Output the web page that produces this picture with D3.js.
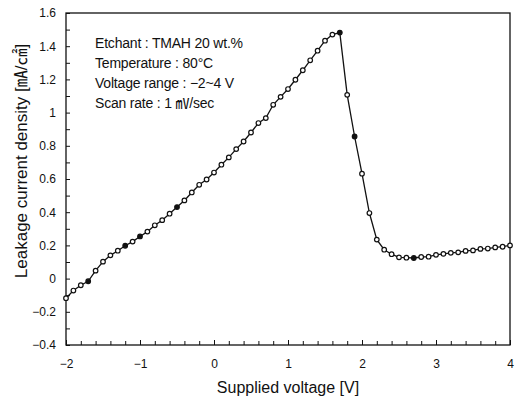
<!DOCTYPE html>
<html><head><meta charset="utf-8">
<script src="https://cdn.jsdelivr.net/npm/d3@7/dist/d3.min.js"></script>
<style>
html,body{margin:0;padding:0;background:#fff;}
svg{display:block;}
text{font-family:Arial,"Liberation Sans","Noto Sans CJK KR",sans-serif;fill:#111;}
</style></head>
<body>
<script>
const voltage = [-2.0,-1.9,-1.8,-1.7,-1.6,-1.5,-1.4,-1.3,-1.2,-1.1,-1.0,-0.9,-0.8,-0.7,-0.6,-0.5,-0.4,-0.3,-0.2,-0.1,
  0.0,0.1,0.2,0.3,0.4,0.5,0.6,0.7,0.8,0.9,1.0,1.1,1.2,1.3,1.4,1.5,1.6,1.7,1.8,1.9,
  2.0,2.1,2.2,2.3,2.4,2.5,2.6,2.7,2.8,2.9,3.0,3.1,3.2,3.3,3.4,3.5,3.6,3.7,3.8,3.9,4.0];
const current = [-0.118,-0.072,-0.040,-0.016,0.048,0.102,0.140,0.168,0.198,0.223,0.254,0.283,0.321,0.352,0.391,0.431,0.471,0.519,0.565,0.597,
  0.639,0.686,0.730,0.780,0.826,0.880,0.937,0.967,1.047,1.095,1.142,1.198,1.255,1.315,1.373,1.433,1.470,1.482,1.107,0.856,
  0.632,0.395,0.235,0.174,0.147,0.128,0.126,0.124,0.130,0.132,0.143,0.149,0.155,0.158,0.167,0.170,0.179,0.181,0.188,0.192,0.200];
const filledVoltages = [-1.7,-1.2,-1.0,-0.5,1.7,1.9,2.7];
const xTickLabels = [-2,-1,0,1,2,3,4];
const xMinorTicks = [-2,-1.8,-1.6,-1.4,-1.2,-1,-0.8,-0.6,-0.4,-0.2,0,0.2,0.4,0.6,0.8,1,1.2,1.4,1.6,1.8,2,2.2,2.4,2.6,2.8,3,3.2,3.4,3.6,3.8,4];
const yTickLabels = [-0.4,-0.2,0,0.2,0.4,0.6,0.8,1,1.2,1.4,1.6];
const yMinorTicks = [-0.3,-0.1,0.1,0.3,0.5,0.7,0.9,1.1,1.3,1.5];
const annotations = ["Etchant : TMAH 20 wt.%","Temperature : 80°C","Voltage range : \u22122~4 V","Scan rate : 1 ㎷/sec"];
const xTitle = "Supplied voltage [V]";
const yTitle = "Leakage current density [㎃/㎠]";

const W = 519, H = 401;
const svg = d3.select("body").append("svg").attr("width", W).attr("height", H);
const x = d3.scaleLinear().domain([-2, 4]).range([66, 510]);
const y = d3.scaleLinear().domain([-0.4, 1.6]).range([345, 13]);

const fmtY = v => (v === 0 ? "0" : (Number.isInteger(v) ? String(v) : v.toFixed(1))).replace("-", "\u2212");
const fmtX = v => String(v).replace("-", "\u2212");

// frame
svg.append("rect").attr("x", x(-2)).attr("y", y(1.6)).attr("width", x(4) - x(-2)).attr("height", y(-0.4) - y(1.6))
  .attr("fill", "none").attr("stroke", "#111").attr("stroke-width", 1.3);

// x axis
const gx = svg.append("g").attr("transform", `translate(0,${y(-0.4)})`);
gx.call(d3.axisBottom(x).tickValues(xMinorTicks).tickSize(-4).tickFormat(""));
gx.append("g").call(d3.axisBottom(x).tickValues(xTickLabels).tickSize(-5).tickPadding(14).tickFormat(fmtX));
gx.selectAll(".domain").remove();
gx.selectAll("line").attr("stroke", "#111").attr("stroke-width", 1);
gx.selectAll("text").attr("font-size", 12).attr("fill", "#111").attr("font-family", "Arial, 'Liberation Sans', sans-serif");

// y axis
const gy = svg.append("g").attr("transform", `translate(${x(-2)},0)`);
gy.call(d3.axisLeft(y).tickValues(yMinorTicks).tickSize(-4).tickFormat(""));
gy.append("g").call(d3.axisLeft(y).tickValues(yTickLabels).tickSize(-4).tickPadding(10).tickFormat(fmtY));
gy.selectAll(".domain").remove();
gy.selectAll("line").attr("stroke", "#111").attr("stroke-width", 1);
gy.selectAll("text").attr("font-size", 12).attr("fill", "#111").attr("font-family", "Arial, 'Liberation Sans', sans-serif");

// data
const data = voltage.map((v, i) => ({v, c: current[i], filled: filledVoltages.includes(v)}));
svg.append("path").datum(data)
  .attr("d", d3.line().x(d => x(d.v)).y(d => y(d.c)))
  .attr("fill", "none").attr("stroke", "#111").attr("stroke-width", 1.3);
svg.append("g").selectAll("circle").data(data).join("circle")
  .attr("cx", d => x(d.v)).attr("cy", d => y(d.c)).attr("r", 2.3)
  .attr("fill", d => d.filled ? "#111" : "#fff").attr("stroke", "#111").attr("stroke-width", 1.2);

// annotations
svg.append("g").selectAll("text").data(annotations).join("text")
  .attr("x", 95).attr("y", (d, i) => 48 + i * 20)
  .attr("font-size", 14).attr("letter-spacing", -0.2).text(d => d);

// titles
svg.append("text").attr("x", 288).attr("y", 393).attr("text-anchor", "middle").attr("font-size", 16).text(xTitle);
svg.append("text").attr("transform", "translate(27,161) rotate(-90)").attr("text-anchor", "middle").attr("font-size", 17).text(yTitle);
</script>
</body></html>
